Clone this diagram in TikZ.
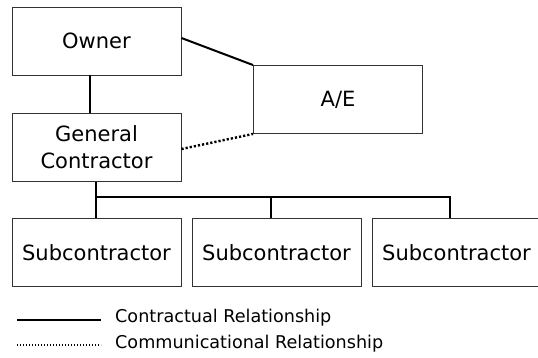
\documentclass[tikz,border=0pt]{standalone}
\usepackage{fontspec}
\setmainfont{DejaVu Sans}
\begin{document}
\begin{tikzpicture}[x=1pt,y=-1pt,
  box/.style={draw=black!80, line width=0.9pt, minimum width=169pt, minimum height=68pt,
    inner sep=0pt, font=\fontsize{21}{27}\selectfont, align=center},
  conn/.style={line width=2pt, black},
  comm/.style={line width=2.4pt, black, dash pattern=on 2.2pt off 2pt},
  legcomm/.style={line width=1.5pt, black, dash pattern=on 1.4pt off 1.6pt},
  legtext/.style={anchor=west, font=\fontsize{17.6}{22}\selectfont, inner sep=0pt}]
\useasboundingbox (0,0) rectangle (538,358);
\clip (0,0) rectangle (538,358);
\node[box] (owner) at (96.5,41) {Owner};
\node[box] (gc) at (96.5,147.5) {General\\Contractor};
\node[box] (ae) at (338,99.5) {A/E};
\node[box] (s1) at (96.5,252.5) {Subcontractor};
\node[box] (s2) at (276.5,252.5) {Subcontractor};
\node[box] (s3) at (456.5,252.5) {Subcontractor};
% connectors
\draw[conn] ([xshift=-6.5pt]owner.south) -- ([xshift=-6.5pt]gc.north);
\draw[conn] ([yshift=3pt]owner.east) -- (ae.north west);
\draw[comm] ([yshift=-1.5pt]gc.east) -- (ae.south west);
\coordinate (bl) at (96,197);
\coordinate (bm) at (271,197);
\coordinate (br) at (450,197);
\draw[conn] (gc.south -| bl) -- (bl) -- (br) -- (br |- s3.north);
\draw[conn] (bl) -- (bl |- s1.north);
\draw[conn] (bm) -- (bm |- s2.north);
% legend
\coordinate (l1a) at (17,320);
\coordinate (l1b) at (101,320);
\coordinate (l2a) at (17,345);
\coordinate (l2b) at (101,345);
\draw[conn] (l1a) -- (l1b);
\draw[legcomm] (l2a) -- (l2b);
\node[legtext] (t1) at (115,318) {Contractual Relationship};
\node[legtext] (t2) at (115,344) {Communicational Relationship};
\end{tikzpicture}
\end{document}
